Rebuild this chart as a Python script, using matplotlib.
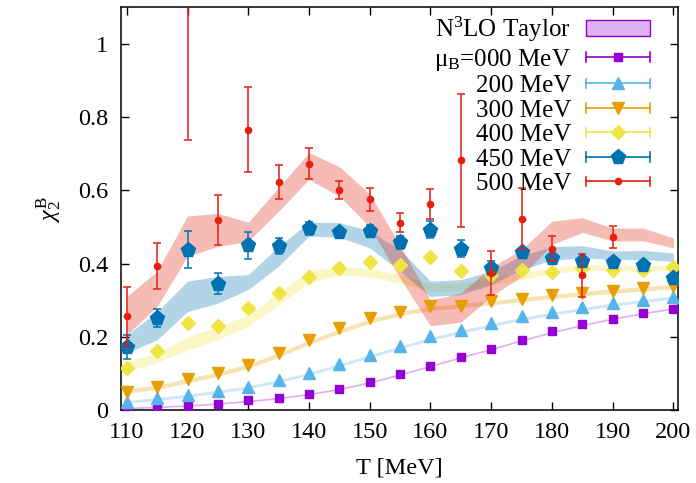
import numpy as np
import matplotlib
matplotlib.use('Agg')
import matplotlib.pyplot as plt
from matplotlib.lines import Line2D
from matplotlib.patches import Patch
from matplotlib.legend_handler import HandlerBase
from matplotlib.ticker import FuncFormatter, MultipleLocator

plt.rcParams['font.family'] = ['Liberation Serif', 'DejaVu Serif']
plt.rcParams['mathtext.fontset'] = 'custom'
plt.rcParams['mathtext.rm'] = 'Liberation Serif'
plt.rcParams['mathtext.it'] = 'Liberation Serif:italic'
plt.rcParams['font.size'] = 17.5

# temperatures [MeV]
T = [110, 115, 120, 125, 130, 135, 140, 145, 150, 155,
     160, 165, 170, 175, 180, 185, 190, 195, 200]

# lattice points
mu000 = [0.003, 0.007, 0.011, 0.016, 0.026, 0.032, 0.045, 0.058, 0.077, 0.099,
         0.121, 0.146, 0.167, 0.192, 0.215, 0.234, 0.249, 0.264, 0.277]
mu200 = [0.023, 0.032, 0.041, 0.053, 0.064, 0.082, 0.102, 0.126, 0.151, 0.175,
         0.201, 0.219, 0.237, 0.256, 0.268, 0.281, 0.292, 0.301, 0.310]
mu300 = [0.048, 0.064, 0.085, 0.100, 0.123, 0.155, 0.190, 0.224, 0.251, 0.269,
         0.283, 0.285, 0.297, 0.303, 0.313, 0.320, 0.326, 0.333, 0.340]
mu400 = [0.116, 0.160, 0.237, 0.230, 0.279, 0.320, 0.364, 0.388, 0.405, 0.397,
         0.417, 0.381, 0.370, 0.382, 0.378, 0.388, 0.382, 0.382, 0.391]
mu450 = [0.173, 0.251, 0.438, 0.345, 0.450, 0.447, 0.496, 0.486, 0.489, 0.458,
         0.493, 0.440, 0.388, 0.431, 0.415, 0.408, 0.405, 0.397, 0.361]
err450 = [0.033, 0.024, 0.050, 0.028, 0.037, 0.022, 0.018, 0.008, 0.017, 0.018,
          0.023, 0.023, 0.020, 0.010, 0.010, 0.010, 0.008, 0.008, 0.010]
mu500 = [0.256, 0.393, 1.250, 0.519, 0.765, 0.623, 0.673, 0.600, 0.575, 0.511,
         0.563, 0.682, 0.374, 0.523, 0.441, 0.368, 0.472, np.nan, np.nan]
err500 = [0.080, 0.062, 0.513, 0.068, 0.116, 0.046, 0.043, 0.025, 0.032, 0.026,
          0.040, 0.182, 0.060, 0.084, 0.034, 0.058, 0.030, np.nan, np.nan]

# N3LO Taylor bands (lower, upper)
band000_lo = [0.003, 0.006, 0.010, 0.015, 0.022, 0.030, 0.041, 0.055, 0.073, 0.095,
              0.118, 0.142, 0.164, 0.188, 0.210, 0.230, 0.247, 0.262, 0.275]
band000_hi = [0.008, 0.011, 0.015, 0.020, 0.027, 0.035, 0.046, 0.060, 0.078, 0.100,
              0.123, 0.147, 0.169, 0.193, 0.215, 0.235, 0.252, 0.267, 0.280]
band200_lo = [0.018, 0.026, 0.035, 0.046, 0.058, 0.075, 0.095, 0.118, 0.143, 0.167,
              0.190, 0.210, 0.228, 0.245, 0.259, 0.272, 0.284, 0.294, 0.303]
band200_hi = [0.026, 0.034, 0.043, 0.054, 0.066, 0.083, 0.103, 0.126, 0.151, 0.175,
              0.198, 0.218, 0.236, 0.253, 0.267, 0.280, 0.292, 0.302, 0.311]
band300_lo = [0.046, 0.056, 0.074, 0.092, 0.114, 0.144, 0.179, 0.209, 0.237, 0.257,
              0.272, 0.279, 0.287, 0.296, 0.304, 0.312, 0.319, 0.325, 0.331]
band300_hi = [0.058, 0.068, 0.086, 0.104, 0.126, 0.156, 0.191, 0.221, 0.249, 0.269,
              0.284, 0.291, 0.299, 0.308, 0.316, 0.324, 0.331, 0.337, 0.343]
band400_lo = [0.105, 0.130, 0.164, 0.192, 0.228, 0.288, 0.347, 0.370, 0.364, 0.347,
              0.324, 0.326, 0.342, 0.356, 0.373, 0.382, 0.380, 0.380, 0.380]
band400_hi = [0.132, 0.155, 0.200, 0.228, 0.260, 0.320, 0.379, 0.392, 0.386, 0.370,
              0.345, 0.345, 0.364, 0.374, 0.389, 0.397, 0.395, 0.395, 0.395]
band450_lo = [0.156, 0.192, 0.269, 0.292, 0.329, 0.393, 0.475, 0.472, 0.443, 0.379,
              0.310, 0.315, 0.342, 0.384, 0.409, 0.416, 0.411, 0.411, 0.406]
band450_hi = [0.205, 0.269, 0.352, 0.365, 0.370, 0.447, 0.513, 0.512, 0.489, 0.438,
              0.352, 0.356, 0.379, 0.422, 0.446, 0.449, 0.434, 0.436, 0.429]
band500_lo = [0.205, 0.283, 0.420, 0.447, 0.461, 0.543, 0.630, 0.584, 0.500, 0.360,
              0.230, 0.240, 0.310, 0.365, 0.452, 0.485, 0.462, 0.462, 0.443]
band500_hi = [0.310, 0.379, 0.530, 0.537, 0.513, 0.608, 0.703, 0.665, 0.590, 0.450,
              0.300, 0.320, 0.390, 0.438, 0.516, 0.525, 0.497, 0.497, 0.470]

c000 = '#9400d3'
c200 = '#56b4e9'
c300 = '#e69f00'
c400 = '#f0e442'
c450 = '#0072b2'
c500 = '#e51e10'


class HandlerGnu(HandlerBase):
    # gnuplot style key sample: line with end caps and marker in the middle
    def create_artists(self, legend, orig_handle, xdescent, ydescent,
                       width, height, fontsize, trans):
        c = orig_handle.get_color()
        x0, x1 = -xdescent, -xdescent + width
        y = -ydescent + height / 2.0
        h = 3.5
        arts = [Line2D([x0, x1], [y, y], color=c, lw=1.2),
                Line2D([x0, x0], [y - h, y + h], color=c, lw=1.2),
                Line2D([x1, x1], [y - h, y + h], color=c, lw=1.2),
                Line2D([(x0 + x1) / 2.0], [y], color=c, lw=0,
                       marker=orig_handle.get_marker(),
                       markersize=orig_handle.get_markersize())]
        for a in arts:
            a.set_transform(trans)
        return arts


fig = plt.figure(figsize=(6.96, 4.83), dpi=100)
ax = fig.add_axes([120.7 / 696, 1 - 410 / 483, 557.6 / 696, 402.7 / 483])

bands = [(band000_lo, band000_hi, c000), (band200_lo, band200_hi, c200),
         (band300_lo, band300_hi, c300), (band400_lo, band400_hi, c400),
         (band450_lo, band450_hi, c450), (band500_lo, band500_hi, c500)]
for lo, hi, c in bands:
    ax.fill_between(T, lo, hi, color=c, alpha=0.3, lw=0, zorder=1)

ax.plot(T, mu000, 's', color=c000, ms=6, zorder=3)
ax.plot(T, mu200, '^', color=c200, ms=9, zorder=3)
ax.plot(T, mu300, 'v', color=c300, ms=9, zorder=3)
ax.plot(T, mu400, 'D', color=c400, ms=7, zorder=3)
ax.errorbar(T, mu450, yerr=err450, fmt='p', color=c450, ms=11,
            elinewidth=1.1, capsize=3, capthick=1.1, zorder=4)
ax.errorbar(T, mu500, yerr=err500, fmt='o', color=c500, ms=4.5,
            elinewidth=1.1, capsize=3, capthick=1.1, zorder=5)

ax.set_xlim(109, 200.8)
ax.set_ylim(0, 1.1)
ax.xaxis.set_major_locator(MultipleLocator(10))
ax.yaxis.set_major_locator(MultipleLocator(0.2))
ax.yaxis.set_major_formatter(FuncFormatter(lambda v, p: '%g' % round(v, 2)))
ax.tick_params(direction='in', length=6, width=1, top=True, right=True, pad=9)
for s in ax.spines.values():
    s.set_linewidth(1.1)
ax.set_xlabel('T [MeV]', labelpad=10)
ax.set_ylabel(r'$\chi_2^\mathrm{B}$', labelpad=10)

handles = [Patch(facecolor='#dfb3f1', edgecolor=c000, lw=1),
           Line2D([], [], color=c000, marker='s', ms=6),
           Line2D([], [], color=c200, marker='^', ms=9),
           Line2D([], [], color=c300, marker='v', ms=9),
           Line2D([], [], color=c400, marker='D', ms=7),
           Line2D([], [], color=c450, marker='p', ms=11),
           Line2D([], [], color=c500, marker='o', ms=4.5)]
labels = [r'N$^3$LO Taylor', r'μ$_\mathrm{B}$=000 MeV', '200 MeV', '300 MeV',
          '400 MeV', '450 MeV', '500 MeV']
hmap = {h: HandlerGnu() for h in handles[1:]}
ax.legend(handles, labels, handler_map=hmap, loc='upper right',
          bbox_to_anchor=(0.9666, 1.006), frameon=False, markerfirst=False,
          handlelength=2.55, handletextpad=0.6, labelspacing=0.1,
          borderaxespad=0.0, handleheight=0.6, fontsize=18)

fig.savefig('out.png', dpi=100)
